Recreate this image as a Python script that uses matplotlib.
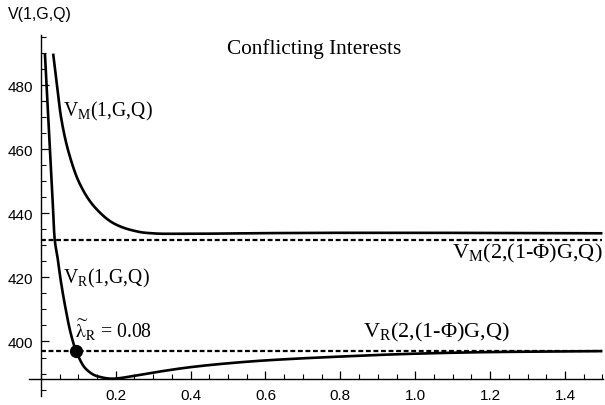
import numpy as np
import matplotlib
matplotlib.use("Agg")
import matplotlib.pyplot as plt
from matplotlib.ticker import MultipleLocator

plt.rcParams['font.family'] = ['Liberation Sans']
plt.rcParams['mathtext.fontset'] = 'custom'
plt.rcParams['mathtext.rm'] = 'Liberation Serif'
plt.rcParams['mathtext.it'] = 'Liberation Serif:italic'

# Data
lam_m = [0.033, 0.043, 0.054, 0.073, 0.104, 0.144, 0.197, 0.24, 0.28, 0.33, 0.4, 0.5, 0.6, 0.8, 1.0, 1.2, 1.5]
v_m = [489.8, 480, 470, 459.6, 449.2, 441.9, 436.7, 434.8, 433.9, 433.6, 433.6, 433.7, 433.8, 433.9, 433.9, 433.85, 433.75]
lam_r = [0.011, 0.02, 0.03, 0.037, 0.045, 0.052, 0.065, 0.08, 0.094, 0.12, 0.15, 0.19, 0.25, 0.3, 0.4, 0.5, 0.6, 0.8, 1.0, 1.2, 1.5]
v_r = [489.8, 470, 448, 432, 426, 420, 411, 402.5, 397.1, 391.5, 389.2, 388.4, 389.3, 390.3, 392.0, 393.2, 394.1, 395.3, 396.2, 396.7, 397.0]
vm2 = 431.6
vr2 = 397.1
lam_tilde = 0.094
x_ticks = [0.2, 0.4, 0.6, 0.8, 1.0, 1.2, 1.4]
y_ticks = [400, 420, 440, 460, 480]

fig = plt.figure(figsize=(6.05, 4.06), dpi=100)
ax = fig.add_axes([29/605, 1-397/406, 574/605, (397-36)/406])

def pchip(xs, ys, n=600):
    x = np.asarray(xs, float); y = np.asarray(ys, float)
    h = np.diff(x); d = np.diff(y) / h
    m = np.zeros_like(y)
    for k in range(1, len(x)-1):
        if d[k-1] * d[k] > 0:
            w1 = 2*h[k] + h[k-1]; w2 = h[k] + 2*h[k-1]
            m[k] = (w1 + w2) / (w1/d[k-1] + w2/d[k])
    m[0] = d[0]; m[-1] = d[-1]
    xx = np.concatenate([np.linspace(x[i], x[i+1], 40, endpoint=False) for i in range(len(x)-1)] + [x[-1:]])
    idx = np.clip(np.searchsorted(x, xx, side='right') - 1, 0, len(x)-2)
    t = (xx - x[idx]) / h[idx]
    h00 = 2*t**3 - 3*t**2 + 1; h10 = t**3 - 2*t**2 + t
    h01 = -2*t**3 + 3*t**2; h11 = t**3 - t**2
    yy = h00*y[idx] + h10*h[idx]*m[idx] + h01*y[idx+1] + h11*h[idx]*m[idx+1]
    return xx, yy

xm, ym = pchip(lam_m, v_m)
xr, yr = pchip(lam_r, v_r)
ax.plot(xm, ym, color='black', lw=1.9, solid_capstyle='butt')
ax.plot(xr, yr, color='black', lw=1.9, solid_capstyle='butt')
ax.plot([0, 1.5], [vm2, vm2], color='black', lw=1.6, dashes=(2.2, 1.2))
ax.plot([0, 1.5], [vr2, vr2], color='black', lw=1.6, dashes=(2.2, 1.2))
ax.plot([lam_tilde], [vr2], 'o', color='black', markersize=8.5, zorder=5)

ax.set_xlim(-0.0315, 1.5015)
ax.set_ylim(383.0, 495.6)

for s in ['top', 'right']:
    ax.spines[s].set_visible(False)
ax.spines['left'].set_position(('data', 0))
ax.spines['bottom'].set_position(('data', 388.25))
ax.spines['left'].set_linewidth(1.0)
ax.spines['bottom'].set_linewidth(1.0)

ax.set_xticks(x_ticks)
ax.set_xticklabels([f"{v:.1f}" for v in x_ticks])
ax.set_yticks(y_ticks)
ax.xaxis.set_minor_locator(MultipleLocator(0.05))
ax.yaxis.set_minor_locator(MultipleLocator(5))
ax.tick_params(which='major', direction='in', length=6, width=0.9, labelsize=11)
ax.tick_params(which='minor', direction='in', length=3.5, width=0.8)
ax.tick_params(axis='x', pad=6.5)
ax.tick_params(axis='y', pad=5.5)

fig.text(8/605, 1-15/406, 'V(1,G,Q)', fontsize=11.5, va='center', ha='left')

serif = 'Liberation Serif'
ax.text(0.73, 491.5, 'Conflicting Interests', fontsize=15.3, family=serif, ha='center', va='center')
ax.text(0.058, 472, r'V$_{\mathrm{M}}$(1,G,Q)', fontsize=14.2, family=serif, ha='left', va='center')
ax.text(0.058, 420, r'V$_{\mathrm{R}}$(1,G,Q)', fontsize=14.2, family=serif, ha='left', va='center')
ax.text(0.0915, 403.6, r'$\widetilde{\mathrm{\lambda}}_{\mathrm{R}}$ = 0.08', fontsize=14.2, family=serif,
        math_fontfamily='stix', ha='left', va='center')
ax.text(1.5, 427.7, r'V$_{\mathrm{M}}$(2,(1-Φ)G,Q)', fontsize=16, family=serif, ha='right', va='center')
ax.text(1.058, 403.1, r'V$_{\mathrm{R}}$(2,(1-Φ)G,Q)', fontsize=16, family=serif, ha='center', va='center')

fig.savefig('out.png', dpi=100)
